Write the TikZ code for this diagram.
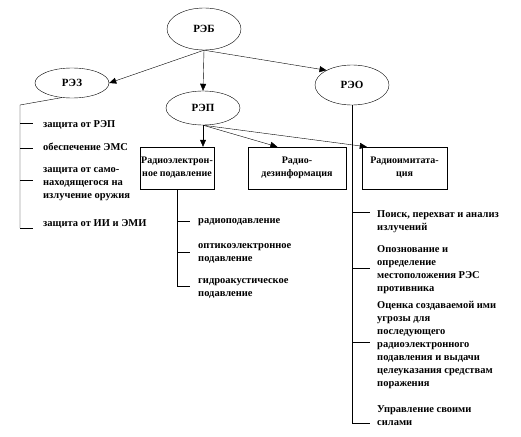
\documentclass[tikz,border=0pt]{standalone}
\usepackage{fontspec}
\setmainfont{Liberation Serif}
\usetikzlibrary{arrows.meta, positioning, calc, shapes.geometric}

\begin{document}
\begin{tikzpicture}[x=1pt, y=-1pt, >={Triangle[length=7pt, width=6pt]},
    oval/.style={draw, ellipse, minimum width=74pt, minimum height=34pt, inner sep=0pt,
        font=\bfseries\fontsize{11}{12}\selectfont},
    box/.style={draw, rectangle, minimum height=42pt, inner sep=1pt, align=center,
        font=\bfseries\fontsize{10}{13}\selectfont},
    item/.style={anchor=north west, inner sep=0pt, align=left,
        font=\bfseries\fontsize{10.5}{13}\selectfont}]
    \useasboundingbox (0,0) rectangle (521,436);
    % ovals
    \node[oval, minimum height=42pt] (reb) at (204,29) {РЭБ};
    \node[oval, minimum height=30pt] (rez) at (72,83) {РЭЗ};
    \node[oval] (rep) at (203,108) {РЭП};
    \node[oval, minimum height=40pt] (reo) at (352,85) {РЭО};
    \draw[->] (reb.south) -- (rez.east);
    \draw[->] (reb.south) -- (rep.north);
    \draw[->] (reb.south) -- (reo.150);
    % boxes
    \node[box, minimum width=70pt] (supp) at (177,168) {Радиоэлектрон-\\ное подавление};
    \node[box, minimum width=98pt] (disinf) at (297,168) {Радио-\\дезинформация};
    \node[box, minimum width=85pt] (imit) at (404.5,168) {Радиоимитата-\\ция};
    \draw[->] (rep.south) -- (rep.south |- supp.north);
    \draw[->] (rep.south) -- ($(disinf.north west)!0.3!(disinf.north east)$);
    \draw[->] (rep.south) -- ([xshift=5pt]imit.north west);
    % left list
    \coordinate (lbot) at (20,228);
    \draw (rez.-125) -- (20,105) -- (lbot);
    \foreach \y in {123,148,180,228}
        \draw (20,\y) -- (33,\y);
    \node[item] (l1) at (43,120) {защита от РЭП};
    \node[item] (l2) at (43,143) {обеспечение ЭМС};
    \node[item] (l3) at (43,167) {защита от само-\\находящегося на\\излучение оружия};
    \node[item] (l4) at (43,219) {защита от ИИ и ЭМИ};
    % middle list
    \coordinate (mbot) at (supp.south |- 0,286);
    \draw (supp.south) -- (mbot);
    \foreach \y in {221,252,286}
        \draw (supp.south |- 0,\y) -- (190,\y);
    \node[item] (m1) at (198,218) {радиоподавление};
    \node[item] (m2) at (198,243) {оптикоэлектронное\\подавление};
    \node[item] (m3) at (198,278) {гидроакустическое\\подавление};
    % right list
    \coordinate (rbot) at (reo.south |- 0,423);
    \draw (reo.south) -- (rbot);
    \foreach \y in {212,268,342,423}
        \draw (reo.south |- 0,\y) -- (370,\y);
    \node[item] (r1) at (377,210) {Поиск, перехват и анализ\\излучений};
    \node[item] (r2) at (377,245) {Опознование и\\определение\\местоположения РЭС\\противника};
    \node[item] (r3) at (377,301) {Оценка создаваемой ими\\угрозы для\\последующего\\радиоэлектронного\\подавления и выдачи\\целеуказания средствам\\поражения};
    \node[item] (r4) at (377,405) {Управление своими\\силами};
\end{tikzpicture}
\end{document}
